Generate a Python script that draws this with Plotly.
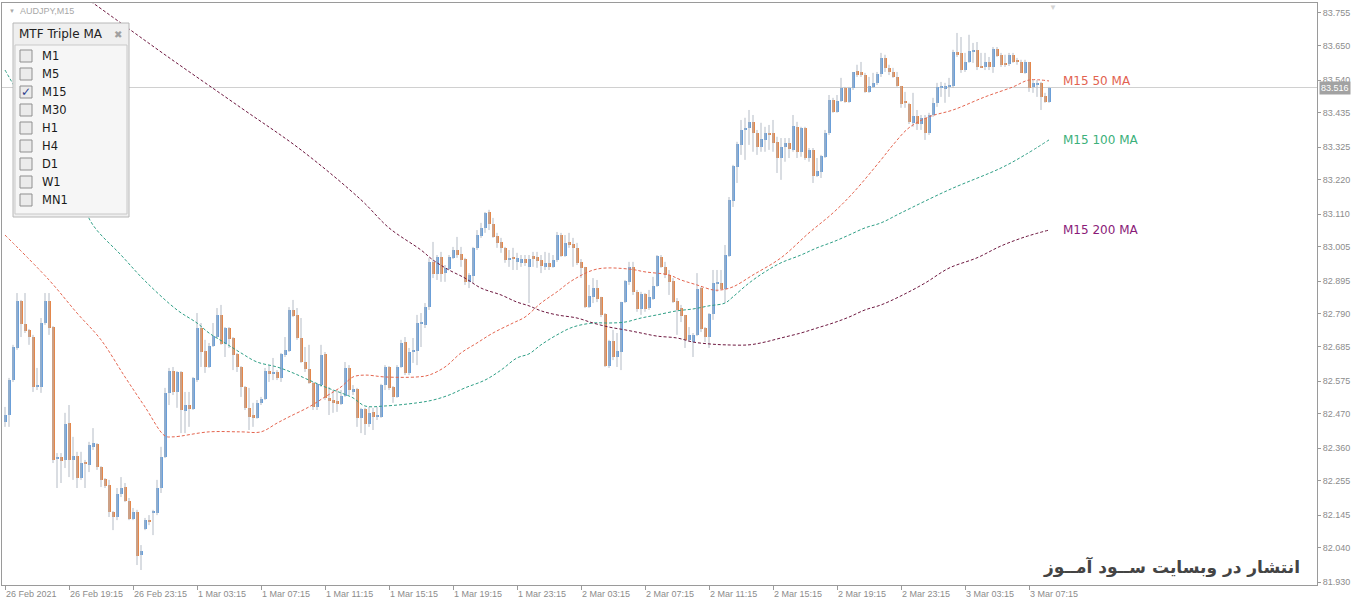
import plotly.graph_objects as go

# ---- data: AUDJPY M15 candles ----
OPEN = [82.444, 82.466, 82.578, 82.681, 82.832, 82.758, 82.739, 82.716, 82.556, 82.556,
        82.761, 82.832, 82.748, 82.326, 82.332, 82.322, 82.440, 82.322, 82.335, 82.264,
        82.312, 82.306, 82.364, 82.373, 82.299, 82.261, 82.242, 82.155, 82.139, 82.213,
        82.235, 82.190, 82.133, 82.155, 82.017, 82.101, 82.129, 82.152, 82.152, 82.232,
        82.331, 82.537, 82.607, 82.540, 82.604, 82.479, 82.498, 82.485, 82.578, 82.745,
        82.671, 82.620, 82.687, 82.716, 82.787, 82.694, 82.745, 82.713, 82.662, 82.620,
        82.556, 82.489, 82.466, 82.457, 82.505, 82.518, 82.607, 82.598, 82.604, 82.585,
        82.658, 82.671, 82.803, 82.787, 82.713, 82.636, 82.614, 82.569, 82.492, 82.562,
        82.662, 82.521, 82.514, 82.511, 82.502, 82.527, 82.617, 82.540, 82.550, 82.457,
        82.485, 82.437, 82.476, 82.460, 82.460, 82.562, 82.620, 82.556, 82.524, 82.620,
        82.700, 82.601, 82.668, 82.671, 82.758, 82.755, 82.812, 82.957, 82.918, 82.973,
        82.921, 82.934, 82.970, 82.995, 82.982, 82.966, 82.893, 82.912, 83.002, 83.040,
        83.066, 83.117, 83.079, 83.040, 83.021, 83.002, 82.963, 82.973, 82.957, 82.954,
        82.966, 82.941, 82.976, 82.973, 82.963, 82.941, 82.954, 82.941, 82.963, 83.043,
        82.976, 83.021, 83.014, 83.002, 82.957, 82.941, 82.812, 82.845, 82.873, 82.845,
        82.790, 82.623, 82.703, 82.652, 82.668, 82.829, 82.893, 82.941, 82.861, 82.806,
        82.854, 82.809, 82.838, 82.880, 82.973, 82.941, 82.915, 82.896, 82.832, 82.809,
        82.787, 82.707, 82.700, 82.723, 82.873, 82.745, 82.716, 82.790, 82.886, 82.889,
        82.870, 82.976, 83.153, 83.262, 83.332, 83.380, 83.387, 83.406, 83.370, 83.326,
        83.348, 83.370, 83.370, 83.342, 83.290, 83.326, 83.338, 83.316, 83.390, 83.310,
        83.387, 83.290, 83.316, 83.233, 83.246, 83.294, 83.370, 83.476, 83.438, 83.473,
        83.515, 83.470, 83.515, 83.569, 83.566, 83.556, 83.502, 83.518, 83.531, 83.560,
        83.611, 83.579, 83.566, 83.550, 83.521, 83.470, 83.463, 83.403, 83.425, 83.399,
        83.419, 83.370, 83.428, 83.467, 83.515, 83.512, 83.518, 83.521, 83.630, 83.627,
        83.572, 83.598, 83.630, 83.637, 83.585, 83.582, 83.598, 83.582, 83.640, 83.621,
        83.595, 83.592, 83.621, 83.601, 83.598, 83.563, 83.598, 83.518, 83.524, 83.531,
        83.489, 83.470]
HIGH = [82.492, 82.585, 82.691, 82.857, 82.835, 82.857, 82.742, 82.723, 82.617, 82.777,
        82.857, 82.857, 82.751, 82.344, 82.344, 82.473, 82.498, 82.396, 82.348, 82.348,
        82.322, 82.380, 82.424, 82.376, 82.302, 82.264, 82.258, 82.158, 82.232, 82.267,
        82.248, 82.200, 82.168, 82.162, 82.049, 82.136, 82.145, 82.162, 82.258, 82.364,
        82.553, 82.617, 82.620, 82.607, 82.607, 82.540, 82.540, 82.588, 82.793, 82.761,
        82.707, 82.697, 82.761, 82.809, 82.819, 82.748, 82.748, 82.716, 82.665, 82.623,
        82.559, 82.553, 82.505, 82.514, 82.524, 82.617, 82.626, 82.649, 82.610, 82.665,
        82.716, 82.812, 82.835, 82.809, 82.777, 82.684, 82.691, 82.572, 82.569, 82.691,
        82.668, 82.556, 82.546, 82.546, 82.546, 82.636, 82.626, 82.562, 82.553, 82.489,
        82.489, 82.492, 82.489, 82.492, 82.566, 82.626, 82.623, 82.559, 82.626, 82.707,
        82.716, 82.681, 82.713, 82.787, 82.793, 82.825, 82.970, 83.021, 82.979, 82.989,
        82.947, 82.979, 83.005, 83.037, 83.005, 82.970, 82.921, 83.005, 83.059, 83.082,
        83.117, 83.124, 83.098, 83.050, 83.034, 83.005, 82.995, 83.002, 82.986, 82.979,
        82.979, 82.979, 82.989, 82.989, 82.979, 82.989, 82.986, 82.979, 83.053, 83.050,
        83.043, 83.050, 83.034, 83.018, 82.966, 82.941, 82.883, 82.905, 82.899, 82.845,
        82.793, 82.707, 82.739, 82.729, 82.829, 82.899, 82.957, 82.957, 82.867, 82.861,
        82.857, 82.867, 82.909, 82.979, 82.979, 82.957, 82.931, 82.905, 82.841, 82.819,
        82.787, 82.748, 82.729, 82.921, 82.877, 82.748, 82.793, 82.931, 82.931, 82.931,
        83.011, 83.165, 83.268, 83.342, 83.412, 83.419, 83.444, 83.428, 83.380, 83.403,
        83.390, 83.396, 83.412, 83.358, 83.354, 83.354, 83.354, 83.428, 83.406, 83.390,
        83.390, 83.322, 83.322, 83.290, 83.300, 83.380, 83.492, 83.483, 83.492, 83.547,
        83.518, 83.518, 83.566, 83.589, 83.598, 83.563, 83.550, 83.563, 83.566, 83.627,
        83.621, 83.589, 83.579, 83.566, 83.521, 83.502, 83.467, 83.499, 83.444, 83.428,
        83.428, 83.435, 83.483, 83.531, 83.534, 83.531, 83.547, 83.637, 83.691, 83.678,
        83.627, 83.685, 83.659, 83.662, 83.627, 83.627, 83.614, 83.646, 83.646, 83.627,
        83.621, 83.627, 83.627, 83.611, 83.605, 83.605, 83.598, 83.540, 83.540, 83.534,
        83.499, 83.518]
LOW = [82.428, 82.428, 82.572, 82.675, 82.716, 82.729, 82.691, 82.540, 82.546, 82.537,
       82.755, 82.723, 82.312, 82.232, 82.248, 82.296, 82.267, 82.258, 82.232, 82.258,
       82.232, 82.283, 82.354, 82.290, 82.235, 82.232, 82.139, 82.097, 82.129, 82.203,
       82.187, 82.129, 82.129, 81.985, 81.969, 82.097, 82.113, 82.081, 82.145, 82.216,
       82.328, 82.498, 82.530, 82.489, 82.408, 82.408, 82.428, 82.482, 82.572, 82.620,
       82.601, 82.617, 82.684, 82.713, 82.691, 82.652, 82.681, 82.610, 82.604, 82.524,
       82.482, 82.418, 82.428, 82.454, 82.498, 82.514, 82.572, 82.578, 82.578, 82.572,
       82.652, 82.668, 82.780, 82.707, 82.633, 82.604, 82.566, 82.482, 82.482, 82.556,
       82.514, 82.466, 82.473, 82.476, 82.498, 82.524, 82.530, 82.530, 82.428, 82.408,
       82.402, 82.428, 82.418, 82.450, 82.457, 82.546, 82.546, 82.505, 82.521, 82.617,
       82.594, 82.594, 82.633, 82.626, 82.684, 82.745, 82.803, 82.905, 82.899, 82.893,
       82.893, 82.931, 82.966, 82.970, 82.941, 82.883, 82.873, 82.889, 82.995, 83.034,
       83.050, 83.059, 83.034, 83.002, 82.986, 82.954, 82.941, 82.931, 82.931, 82.941,
       82.944, 82.825, 82.941, 82.938, 82.921, 82.931, 82.931, 82.938, 82.957, 82.973,
       82.973, 83.002, 82.941, 82.947, 82.905, 82.809, 82.809, 82.825, 82.828, 82.780,
       82.620, 82.617, 82.642, 82.620, 82.610, 82.825, 82.883, 82.851, 82.797, 82.787,
       82.797, 82.803, 82.835, 82.877, 82.938, 82.905, 82.851, 82.825, 82.723, 82.764,
       82.681, 82.700, 82.652, 82.719, 82.732, 82.700, 82.681, 82.771, 82.861, 82.867,
       82.825, 82.973, 83.133, 83.210, 83.300, 83.284, 83.332, 83.310, 83.300, 83.310,
       83.310, 83.316, 83.310, 83.242, 83.220, 83.278, 83.290, 83.310, 83.290, 83.294,
       83.284, 83.278, 83.210, 83.229, 83.226, 83.290, 83.364, 83.435, 83.435, 83.470,
       83.467, 83.467, 83.508, 83.550, 83.550, 83.499, 83.499, 83.515, 83.524, 83.550,
       83.566, 83.556, 83.547, 83.518, 83.451, 83.451, 83.399, 83.390, 83.380, 83.380,
       83.348, 83.364, 83.422, 83.454, 83.486, 83.467, 83.486, 83.515, 83.614, 83.563,
       83.566, 83.595, 83.595, 83.572, 83.579, 83.572, 83.572, 83.563, 83.614, 83.582,
       83.582, 83.585, 83.595, 83.589, 83.563, 83.560, 83.502, 83.499, 83.486, 83.444,
       83.467, 83.467]
CLOSE = [82.466, 82.578, 82.684, 82.832, 82.758, 82.736, 82.716, 82.556, 82.559, 82.761,
         82.832, 82.745, 82.322, 82.332, 82.319, 82.437, 82.322, 82.335, 82.264, 82.312,
         82.309, 82.370, 82.376, 82.299, 82.258, 82.238, 82.155, 82.139, 82.213, 82.232,
         82.190, 82.133, 82.155, 82.014, 82.030, 82.129, 82.123, 82.155, 82.232, 82.331,
         82.537, 82.607, 82.540, 82.604, 82.482, 82.498, 82.485, 82.585, 82.745, 82.668,
         82.620, 82.687, 82.719, 82.787, 82.694, 82.745, 82.710, 82.658, 82.620, 82.556,
         82.489, 82.460, 82.457, 82.505, 82.518, 82.607, 82.598, 82.601, 82.585, 82.662,
         82.675, 82.803, 82.784, 82.713, 82.636, 82.614, 82.569, 82.492, 82.566, 82.658,
         82.521, 82.511, 82.505, 82.502, 82.527, 82.617, 82.546, 82.550, 82.457, 82.485,
         82.437, 82.473, 82.460, 82.466, 82.562, 82.620, 82.553, 82.524, 82.620, 82.697,
         82.601, 82.668, 82.675, 82.761, 82.761, 82.812, 82.957, 82.918, 82.973, 82.918,
         82.937, 82.973, 82.995, 82.979, 82.963, 82.893, 82.915, 83.002, 83.043, 83.066,
         83.114, 83.079, 83.037, 83.018, 83.002, 82.963, 82.970, 82.966, 82.970, 82.966,
         82.954, 82.966, 82.966, 82.960, 82.944, 82.954, 82.941, 82.963, 83.043, 82.976,
         83.018, 83.011, 83.002, 82.954, 82.938, 82.812, 82.848, 82.873, 82.838, 82.787,
         82.623, 82.703, 82.652, 82.671, 82.829, 82.896, 82.941, 82.861, 82.806, 82.854,
         82.806, 82.845, 82.880, 82.976, 82.941, 82.915, 82.893, 82.829, 82.803, 82.784,
         82.707, 82.723, 82.723, 82.870, 82.742, 82.716, 82.790, 82.889, 82.893, 82.870,
         82.979, 83.156, 83.265, 83.335, 83.380, 83.387, 83.406, 83.370, 83.326, 83.351,
         83.370, 83.364, 83.338, 83.290, 83.326, 83.338, 83.319, 83.393, 83.310, 83.387,
         83.290, 83.316, 83.233, 83.249, 83.297, 83.370, 83.476, 83.438, 83.473, 83.515,
         83.470, 83.515, 83.566, 83.556, 83.556, 83.502, 83.521, 83.531, 83.560, 83.611,
         83.579, 83.566, 83.550, 83.521, 83.463, 83.467, 83.406, 83.425, 83.399, 83.419,
         83.370, 83.428, 83.467, 83.518, 83.518, 83.521, 83.524, 83.630, 83.621, 83.572,
         83.598, 83.633, 83.637, 83.582, 83.579, 83.598, 83.582, 83.640, 83.617, 83.589,
         83.589, 83.621, 83.598, 83.598, 83.563, 83.598, 83.515, 83.531, 83.531, 83.486,
         83.470, 83.516]

# moving averages, sampled along the bar index
MA50_BARS = [0, 11, 18, 24, 30, 35, 40, 42, 51, 59, 64, 68, 71, 76, 80, 84, 87, 90, 95,
             103, 106, 110, 114, 118, 122, 127, 130, 134, 138, 142, 148, 156, 160, 166,
             169, 173, 177, 179, 182, 187, 194, 201, 207, 212, 219, 222, 226, 231, 237,
             245, 252, 256, 261]
MA50_VALUES = [83.043, 82.899, 82.793, 82.707, 82.588, 82.492, 82.399, 82.396, 82.412,
               82.412, 82.412, 82.440, 82.460, 82.492, 82.524, 82.556, 82.588, 82.594,
               82.588, 82.588, 82.594, 82.620, 82.665, 82.697, 82.729, 82.761, 82.780,
               82.825, 82.861, 82.899, 82.934, 82.934, 82.925, 82.915, 82.899, 82.883,
               82.867, 82.867, 82.877, 82.915, 82.970, 83.050, 83.114, 83.178, 83.284,
               83.332, 83.387, 83.422, 83.444, 83.486, 83.518, 83.540, 83.537]

MA100_BARS = [0, 5, 11, 18, 22, 29, 35, 43, 48, 51, 55, 59, 63, 68, 72, 76, 80, 84, 87,
              90, 95, 103, 107, 111, 115, 120, 124, 128, 131, 134, 138, 142, 147, 151,
              155, 159, 163, 168, 172, 176, 180, 182, 186, 190, 194, 199, 203, 207, 211,
              215, 219, 224, 236, 249, 255, 261]
MA100_VALUES = [83.572, 83.460, 83.322, 83.181, 83.075, 82.979, 82.896, 82.803, 82.761,
                82.729, 82.697, 82.665, 82.636, 82.620, 82.601, 82.578, 82.556, 82.537,
                82.521, 82.495, 82.495, 82.505, 82.514, 82.530, 82.553, 82.578, 82.610,
                82.649, 82.662, 82.691, 82.723, 82.748, 82.761, 82.761, 82.764, 82.777,
                82.787, 82.800, 82.806, 82.816, 82.825, 82.845, 82.889, 82.925, 82.954,
                82.979, 83.002, 83.021, 83.043, 83.066, 83.082, 83.114, 83.188, 83.258,
                83.300, 83.348]

MA200_BARS = [0, 22, 40, 59, 74, 89, 96, 104, 107, 111, 115, 119, 124, 128, 131, 134,
              138, 143, 147, 151, 155, 159, 163, 168, 172, 176, 180, 186, 190, 194, 199,
              203, 207, 211, 215, 219, 224, 230, 236, 243, 249, 255, 261]
MA200_VALUES = [83.986, 83.787, 83.621, 83.451, 83.316, 83.156, 83.066, 82.995, 82.963,
                82.931, 82.905, 82.873, 82.851, 82.828, 82.816, 82.800, 82.787, 82.777,
                82.761, 82.748, 82.739, 82.729, 82.719, 82.713, 82.700, 82.694, 82.691,
                82.691, 82.700, 82.713, 82.729, 82.745, 82.761, 82.780, 82.803, 82.819,
                82.848, 82.889, 82.937, 82.970, 83.008, 83.037, 83.059]

MA_LABELS = ["M15 50 MA", "M15 100 MA", "M15 200 MA"]

TIME_TICK_BARS = list(range(0, 257, 16))
TIME_TICK_LABELS = ["26 Feb 2021", "26 Feb 19:15", "26 Feb 23:15", "1 Mar 03:15",
                    "1 Mar 07:15", "1 Mar 11:15", "1 Mar 15:15", "1 Mar 19:15",
                    "1 Mar 23:15", "2 Mar 03:15", "2 Mar 07:15", "2 Mar 11:15",
                    "2 Mar 15:15", "2 Mar 19:15", "2 Mar 23:15", "3 Mar 03:15",
                    "3 Mar 07:15"]
PRICE_TICKS = [83.755, 83.650, 83.540, 83.435, 83.325, 83.220, 83.110, 83.005, 82.895,
               82.790, 82.685, 82.575, 82.470, 82.360, 82.255, 82.145, 82.040, 81.930]

TIMEFRAMES = ["M1", "M5", "M15", "M30", "H1", "H4", "D1", "W1", "MN1"]
CHECKED_TF = "M15"

SYMBOL = "AUDJPY,M15"
PANEL_TITLE = "MTF Triple MA"
WATERMARK = "انتشار در وبسایت ســود آمــوز"

# ---- styling ----
BULL = "#6b9fd8"
BEAR = "#e3874b"
WICK = "#b4bbc5"
MA_COLORS = ["#e4654f", "#2f9f86", "#6e1840"]
MA_LABEL_COLORS = ["#e26250", "#3bb07a", "#8a1a78"]
AXIS_GRAY = "#9a9a9a"
TICK_FONT = dict(family="Liberation Sans", size=9, color="#8c8c8c")

W, H = 1360, 602
PLOT_L, PLOT_T, PLOT_R, PLOT_B = 2, 3, 1317, 585


def px(x):
    return (x - PLOT_L) / (PLOT_R - PLOT_L)


def py(y):
    return 1 - (y - PLOT_T) / (PLOT_B - PLOT_T)


n = len(CLOSE)
bars = list(range(n))

fig = go.Figure()

# wicks
wx, wy = [], []
for i in bars:
    wx += [i, i, None]
    wy += [LOW[i], HIGH[i], None]
fig.add_trace(go.Scatter(x=wx, y=wy, mode="lines", line=dict(color=WICK, width=1),
                         hoverinfo="skip", showlegend=False))

# bodies
body_base = [min(o, c) for o, c in zip(OPEN, CLOSE)]
body_h = [max(abs(c - o), 0.0035) for o, c in zip(OPEN, CLOSE)]
body_col = [BULL if c >= o else BEAR for o, c in zip(OPEN, CLOSE)]
fig.add_trace(go.Bar(x=bars, y=body_h, base=body_base, width=0.75,
                     marker=dict(color=body_col, line=dict(width=0)),
                     showlegend=False, hoverinfo="skip"))

# moving averages
for xs, ys, col in [(MA50_BARS, MA50_VALUES, MA_COLORS[0]),
                    (MA100_BARS, MA100_VALUES, MA_COLORS[1]),
                    (MA200_BARS, MA200_VALUES, MA_COLORS[2])]:
    fig.add_trace(go.Scatter(x=xs, y=ys, mode="lines", line_shape="spline",
                             line=dict(color=col, width=1, dash="3px,2px"),
                             showlegend=False, hoverinfo="skip"))

annotations = []
for label, xs, ys, col in zip(MA_LABELS, [MA50_BARS, MA100_BARS, MA200_BARS],
                              [MA50_VALUES, MA100_VALUES, MA200_VALUES], MA_LABEL_COLORS):
    annotations.append(dict(x=xs[-1] + 3, y=ys[-1], xref="x", yref="y", text=label,
                            showarrow=False, xanchor="left", yanchor="middle",
                            font=dict(family="DejaVu Sans", size=12, color=col)))

# last price box on the axis
annotations.append(dict(x=1, xref="paper", y=CLOSE[-1], yref="y", text=f"{CLOSE[-1]:.3f}",
                        showarrow=False, xanchor="left", yanchor="middle", xshift=2,
                        bgcolor="#a2a2a2", borderpad=1,
                        font=dict(family="Liberation Sans", size=9, color="white")))

# symbol caption and small markers
annotations += [
    dict(x=px(7), y=py(11), xref="paper", yref="paper", text="▼", showarrow=False,
         xanchor="left", yanchor="middle", font=dict(size=6, color="#a8a8a8")),
    dict(x=px(18), y=py(11), xref="paper", yref="paper", text=SYMBOL, showarrow=False,
         xanchor="left", yanchor="middle",
         font=dict(family="Liberation Sans", size=9, color="#a8a8a8")),
    dict(x=px(1053), y=py(7), xref="paper", yref="paper", text="▼", showarrow=False,
         xanchor="center", yanchor="middle", font=dict(size=8, color="#d4d4d4")),
    dict(x=px(1302), y=py(567), xref="paper", yref="paper", text=f"<b>{WATERMARK}</b>",
         showarrow=False, xanchor="right", yanchor="middle",
         font=dict(family="DejaVu Sans", size=17, color="#444444")),
]

shapes = [dict(type="line", xref="paper", yref="y", x0=0, x1=1, y0=CLOSE[-1], y1=CLOSE[-1],
               line=dict(color="#d0d0d0", width=1), layer="below")]

# MTF Triple MA panel
shapes.append(dict(type="rect", xref="paper", yref="paper", x0=px(13), x1=px(129),
                   y0=py(217), y1=py(23), fillcolor="#efefef",
                   line=dict(color="#b8b8b8", width=1), layer="above"))
shapes.append(dict(type="rect", xref="paper", yref="paper", x0=px(15), x1=px(127),
                   y0=py(214), y1=py(45), fillcolor="#f6f6f6",
                   line=dict(color="#c9c9c9", width=1), layer="above"))
annotations.append(dict(x=px(17), y=py(34), xref="paper", yref="paper", text=PANEL_TITLE,
                        showarrow=False, xanchor="left", yanchor="middle",
                        font=dict(family="DejaVu Sans", size=12, color="#222222")))
annotations.append(dict(x=px(118), y=py(34), xref="paper", yref="paper", text="✖",
                        showarrow=False, xanchor="center", yanchor="middle",
                        font=dict(family="DejaVu Sans", size=10, color="#a0a0a0")))
for k, tf in enumerate(TIMEFRAMES):
    cy = 56 + 18 * k
    shapes.append(dict(type="rect", xref="paper", yref="paper", x0=px(20), x1=px(32),
                       y0=py(cy + 6), y1=py(cy - 6), fillcolor="#ebebeb",
                       line=dict(color="#8f8f8f", width=1), layer="above"))
    annotations.append(dict(x=px(40), y=py(cy), xref="paper", yref="paper", text=tf,
                            showarrow=False, xanchor="left", yanchor="middle",
                            font=dict(family="DejaVu Sans", size=11.5, color="#1a1a1a")))
    if tf == CHECKED_TF:
        annotations.append(dict(x=px(26), y=py(cy), xref="paper", yref="paper", text="✓",
                                showarrow=False, xanchor="center", yanchor="middle",
                                font=dict(family="DejaVu Sans", size=12, color="#2c3c8c")))

fig.update_layout(
    width=W, height=H,
    margin=dict(l=PLOT_L, r=W - PLOT_R, t=PLOT_T, b=H - PLOT_B),
    paper_bgcolor="white", plot_bgcolor="white",
    showlegend=False, bargap=0,
    shapes=shapes, annotations=annotations,
    xaxis=dict(range=[-0.75, 328], showgrid=False, zeroline=False,
               showline=True, mirror=True, linecolor=AXIS_GRAY, linewidth=1,
               tickmode="array", tickvals=TIME_TICK_BARS, ticktext=TIME_TICK_LABELS,
               ticks="outside", ticklen=4, tickcolor=AXIS_GRAY,
               ticklabelposition="outside right", tickfont=TICK_FONT, fixedrange=True),
    yaxis=dict(range=[81.921, 83.787], side="right", showgrid=False, zeroline=False,
               showline=True, mirror=True, linecolor=AXIS_GRAY, linewidth=1,
               tickmode="array", tickvals=PRICE_TICKS,
               ticktext=[f"{v:.3f}" for v in PRICE_TICKS],
               ticks="outside", ticklen=3, tickcolor=AXIS_GRAY,
               tickfont=TICK_FONT, fixedrange=True),
)

# the page body has a default 8px margin; drop it so the chart sits at the window corner
fig.write_html("out.html", config={"displayModeBar": False},
               post_script="document.body.style.margin='0';")
